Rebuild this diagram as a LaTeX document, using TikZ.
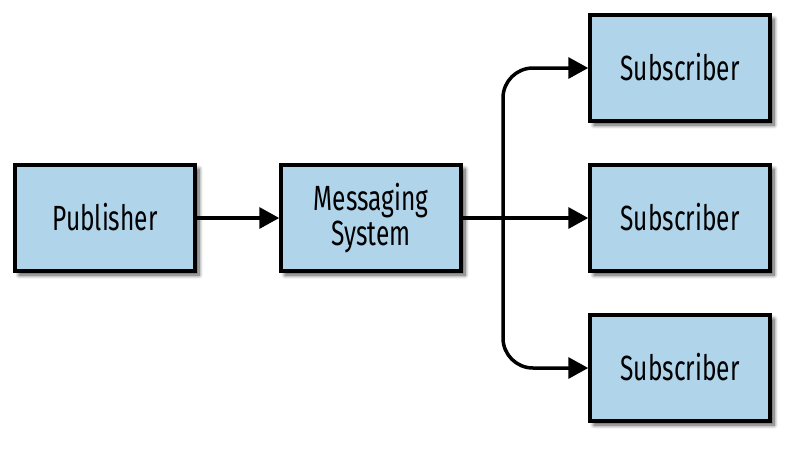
\documentclass[tikz,border=0pt]{standalone}
\usepackage{fontspec}
\setmainfont[FakeStretch=0.7]{Fira Sans}
\usetikzlibrary{arrows.meta,shadows.blur}
\tikzset{
  box/.style={draw=black, line width=3.5pt, fill={rgb,255:red,176;green,212;blue,234},
    minimum width=180pt, minimum height=106pt, inner sep=2pt, align=center,
    font=\fontsize{35}{38}\selectfont,
    blur shadow={shadow xshift=4pt, shadow yshift=-4pt, shadow opacity=70, shadow blur steps=8, shadow blur radius=4pt}},
  conn/.style={line width=3.5pt, -{Triangle[length=20pt,width=21pt]}},
}
\begin{document}
\begin{tikzpicture}[x=1pt,y=-1pt]
\useasboundingbox (0,0) rectangle (798,448);
\node[box] (pub) at (105,218) {\raisebox{2pt}{Publisher}};
\node[box] (msg) at (371,218) {Messaging\\[-3pt]System};
\node[box] (s1) at (680,68) {\raisebox{2pt}{Subscriber}};
\node[box] (s2) at (680,218) {\raisebox{2pt}{Subscriber}};
\node[box] (s3) at (680,368) {\raisebox{2pt}{Subscriber}};
\coordinate (br) at (503,218);
\draw[conn] (pub.east) -- (msg.west);
\draw[conn] (msg.east) -- (s2.west);
\draw[conn, rounded corners=30pt] (br) |- (s1.west);
\draw[conn, rounded corners=30pt] (br) |- (s3.west);
\end{tikzpicture}
\end{document}
